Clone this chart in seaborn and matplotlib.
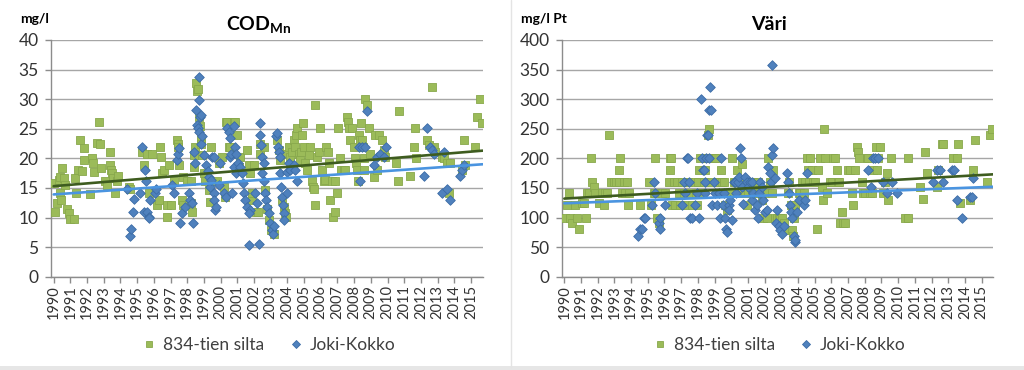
import numpy as np
import pandas as pd
import matplotlib
matplotlib.use("Agg")
import matplotlib.pyplot as plt
from matplotlib.lines import Line2D
from matplotlib.patches import Rectangle
import seaborn as sns

# ---------------- DATA ----------------
site_names = ["834-tien silta", "Joki-Kokko"]
year_ticks = list(range(1990, 2016))

# COD_Mn, 834-tien silta
cod_834_year = [1990.00, 1990.10, 1990.20, 1990.30, 1990.36, 1990.40, 1990.44, 1990.50, 1990.60, 1990.70,
                1990.80, 1990.90, 1991.00, 1991.20, 1991.30, 1991.36, 1991.44, 1991.60, 1991.70, 1991.80,
                1991.84, 1992.16, 1992.30, 1992.36, 1992.44, 1992.60, 1992.70, 1992.80, 1992.86, 1993.10,
                1993.20, 1993.35, 1993.40, 1993.43, 1993.50, 1993.55, 1993.70, 1993.80, 1993.83, 1994.50,
                1994.60, 1995.30, 1995.40, 1995.60, 1995.70, 1995.90, 1996.20, 1996.30, 1996.35, 1996.40,
                1996.50, 1996.60, 1996.80, 1996.78, 1997.00, 1996.90, 1997.20, 1997.40, 1997.42, 1997.44,
                1997.50, 1997.70, 1997.72, 1997.75, 1998.00, 1998.20, 1998.30, 1998.23, 1998.40, 1998.42,
                1998.44, 1998.55, 1998.60, 1998.65, 1998.68, 1998.74, 1998.82, 1998.80, 1998.88, 1998.98,
                1999.08, 1999.28, 1999.35, 1999.43, 1999.78, 1999.88, 2000.08, 2000.18, 2000.28, 2000.30,
                2000.38, 2000.48, 2000.58, 2000.78, 2000.88, 2000.98, 2001.08, 2001.18, 2001.58, 2001.68,
                2001.78, 2001.88, 2001.90, 2001.98, 2002.14, 2002.22, 2002.34, 2002.38, 2002.58, 2002.68,
                2002.78, 2002.88, 2003.02, 2003.18, 2003.38, 2003.48, 2003.58, 2003.68, 2003.78, 2003.88,
                2003.94, 2003.90, 2004.08, 2004.18, 2004.28, 2004.38, 2004.48, 2004.54, 2004.58, 2004.68,
                2004.74, 2004.82, 2004.88, 2004.94, 2004.98, 2005.08, 2005.18, 2005.28, 2005.38, 2005.48,
                2005.54, 2005.62, 2005.64, 2005.68, 2005.78, 2005.88, 2005.94, 2006.08, 2006.18, 2006.28,
                2006.34, 2006.41, 2006.47, 2006.57, 2006.67, 2006.73, 2006.83, 2006.87, 2006.97, 2007.01,
                2007.17, 2007.21, 2007.37, 2007.47, 2007.57, 2007.61, 2007.67, 2007.77, 2007.87, 2007.97,
                2008.07, 2008.13, 2008.17, 2008.21, 2008.27, 2008.33, 2008.41, 2008.47, 2008.53, 2008.57,
                2008.61, 2008.67, 2008.77, 2008.87, 2008.93, 2009.17, 2009.27, 2009.37, 2009.47, 2009.67,
                2009.77, 2009.87, 2010.53, 2010.61, 2010.67, 2011.37, 2011.57, 2011.67, 2011.73, 2012.36,
                2012.46, 2012.66, 2012.76, 2012.86, 2013.26, 2013.36, 2013.56, 2013.66, 2013.76, 2014.46,
                2014.56, 2014.66, 2015.26, 2015.36, 2015.56, 2015.66]
cod_834_value = [15.9, 11.0, 12.4, 16.3, 16.8, 14.1, 13.0, 18.3, 16.6, 15.5,
                 11.5, 10.7, 9.7, 9.7, 16.6, 14.2, 18.0, 23.1, 17.9, 19.8,
                 21.7, 13.9, 20.0, 19.2, 17.7, 22.6, 26.1, 22.4, 18.3, 16.1,
                 15.5, 21.0, 18.9, 18.1, 17.5, 16.6, 14.1, 16.1, 17.0, 15.2,
                 14.9, 21.1, 18.9, 20.8, 14.1, 20.8, 12.1, 13.0, 22.0, 20.3,
                 17.5, 18.0, 10.1, 12.1, 12.1, 18.9, 16.1, 23.1, 22.5, 22.0,
                 18.9, 13.0, 12.1, 16.9, 16.1, 12.4, 11.0, 16.1, 18.6, 20.6,
                 22.0, 32.7, 31.3, 31.8, 27.0, 25.4, 23.4, 22.5, 20.6, 17.5,
                 16.1, 14.6, 12.7, 22.0, 16.1, 19.2, 20.3, 15.2, 13.5, 26.2,
                 26.2, 22.0, 22.0, 26.2, 26.2, 23.9, 18.6, 20.3, 21.4, 18.9,
                 17.5, 13.0, 14.1, 18.9, 11.0, 11.0, 22.5, 20.8, 22.0, 14.6,
                 11.5, 9.6, 7.9, 7.3, 23.1, 21.4, 19.7, 13.0, 11.8, 10.7,
                 10.1, 20.8, 22.0, 20.3, 21.1, 23.1, 22.0, 23.9, 25.1, 20.8,
                 19.7, 21.1, 23.9, 25.9, 22.0, 19.2, 18.0, 20.6, 22.0, 16.1,
                 15.2, 14.9, 12.1, 29.0, 20.3, 21.1, 25.1, 18.0, 16.1, 16.3,
                 22.0, 21.1, 19.2, 13.0, 16.1, 10.1, 11.0, 16.1, 14.1, 25.1,
                 20.0, 18.0, 18.0, 18.0, 27.0, 26.2, 25.1, 23.1, 25.1, 22.0,
                 20.0, 19.2, 18.0, 16.1, 23.9, 23.1, 25.9, 23.1, 22.0, 20.0,
                 18.0, 30.0, 29.0, 25.1, 20.8, 16.9, 23.9, 18.0, 23.9, 23.1,
                 21.4, 20.3, 19.2, 16.1, 28.0, 17.0, 22.0, 25.1, 20.0, 23.1,
                 22.3, 32.0, 22.0, 21.1, 20.3, 20.0, 19.2, 14.1, 19.2, 18.0,
                 23.1, 18.9, 22.0, 27.0, 30.0, 25.9]

# COD_Mn, Joki-Kokko
cod_joki_year = [1994.39, 1994.55, 1994.65, 1994.75, 1994.79, 1995.49, 1995.29, 1995.39, 1995.59, 1995.69,
                 1995.73, 1995.55, 1995.79, 1995.19, 1996.09, 1996.15, 1997.09, 1997.19, 1997.39, 1997.43,
                 1997.49, 1997.59, 1997.69, 1997.89, 1998.09, 1998.19, 1998.29, 1998.35, 1998.49, 1998.43,
                 1998.55, 1998.59, 1998.63, 1998.69, 1998.71, 1998.73, 1998.75, 1998.83, 1998.85, 1998.89,
                 1998.99, 1999.15, 1999.23, 1999.29, 1999.39, 1999.45, 1999.49, 1999.59, 1999.61, 1999.63,
                 1999.69, 1999.71, 1999.89, 1999.99, 2000.18, 2000.32, 2000.38, 2000.48, 2000.54, 2000.58,
                 2000.62, 2000.68, 2000.78, 2000.80, 2000.88, 2000.90, 2000.94, 2001.02, 2001.18, 2001.28,
                 2001.34, 2001.38, 2001.48, 2001.58, 2001.68, 2001.78, 2001.70, 2002.08, 2002.18, 2002.28,
                 2002.34, 2002.38, 2002.42, 2002.48, 2002.50, 2002.58, 2002.62, 2002.68, 2002.74, 2002.78,
                 2002.88, 2002.98, 2003.08, 2003.14, 2003.22, 2003.34, 2003.38, 2003.42, 2003.48, 2003.54,
                 2003.58, 2003.62, 2003.68, 2003.74, 2003.78, 2003.82, 2003.98, 2004.00, 2004.08, 2004.18,
                 2004.38, 2004.48, 2004.58, 2008.27, 2008.37, 2008.47, 2008.67, 2008.77, 2009.17, 2009.37,
                 2009.57, 2009.77, 2009.93, 2012.16, 2012.36, 2012.56, 2012.66, 2012.76, 2013.26, 2013.36,
                 2013.56, 2013.76, 2014.36, 2014.46, 2014.56]
cod_joki_value = [14.8, 6.9, 8.0, 11.0, 13.1, 18.0, 22.0, 11.0, 11.0, 10.1,
                  9.9, 16.1, 13.0, 14.1, 14.1, 14.9, 15.5, 14.1, 19.7, 20.8,
                  21.7, 9.1, 10.7, 11.8, 14.1, 13.0, 12.4, 9.1, 19.2, 21.1,
                  28.2, 25.6, 25.1, 24.5, 33.8, 29.9, 27.0, 27.3, 22.5, 23.7,
                  20.6, 18.9, 17.9, 16.9, 15.2, 16.3, 20.3, 20.3, 14.1, 13.0,
                  11.3, 11.8, 15.5, 19.2, 14.1, 13.5, 25.1, 24.5, 23.4, 20.3,
                  20.8, 14.1, 25.4, 18.6, 22.0, 17.5, 20.8, 19.2, 18.6, 17.5,
                  15.9, 14.1, 13.0, 11.8, 5.4, 11.3, 10.7, 14.1, 12.4, 5.6,
                  25.9, 23.9, 22.3, 20.3, 17.5, 16.1, 19.2, 14.1, 13.0, 11.8,
                  10.7, 9.0, 7.9, 7.3, 8.5, 23.7, 24.2, 22.0, 21.1, 20.3,
                  17.5, 15.2, 13.5, 12.1, 10.7, 9.6, 14.1, 17.7, 19.2, 18.0,
                  18.9, 18.0, 16.1, 22.0, 16.1, 22.0, 22.0, 28.0, 18.9, 20.3,
                  20.8, 20.3, 22.0, 17.0, 25.1, 22.0, 21.4, 20.8, 14.1, 21.1,
                  14.9, 13.0, 17.0, 18.0, 18.9]

# Väri, 834-tien silta
vari_834_year = [1990.06, 1990.16, 1990.30, 1990.36, 1990.46, 1990.66, 1990.76, 1990.86, 1991.06, 1991.16,
                 1991.30, 1991.36, 1991.50, 1991.62, 1991.66, 1991.76, 1991.82, 1992.10, 1992.26, 1992.36,
                 1992.46, 1992.56, 1992.70, 1992.82, 1992.96, 1993.10, 1993.26, 1993.30, 1993.36, 1993.46,
                 1993.56, 1993.66, 1993.76, 1993.86, 1993.82, 1994.51, 1995.05, 1995.21, 1995.35, 1995.41,
                 1995.45, 1995.55, 1995.65, 1995.85, 1996.05, 1996.25, 1996.31, 1996.35, 1996.41, 1996.45,
                 1996.54, 1996.64, 1996.74, 1996.84, 1996.94, 1997.04, 1997.14, 1997.24, 1997.40, 1997.54,
                 1997.64, 1997.80, 1997.88, 1997.94, 1998.00, 1998.08, 1998.14, 1998.24, 1998.34, 1998.44,
                 1998.54, 1998.60, 1998.64, 1998.68, 1998.80, 1998.94, 1999.08, 1999.14, 1999.20, 1999.34,
                 1999.40, 1999.44, 1999.54, 1999.64, 1999.74, 1999.84, 2000.04, 2000.14, 2000.24, 2000.34,
                 2000.44, 2000.54, 2000.63, 2000.73, 2000.83, 2000.93, 2001.03, 2001.13, 2001.23, 2001.33,
                 2001.53, 2001.63, 2001.73, 2001.83, 2001.93, 2002.03, 2002.13, 2002.23, 2002.33, 2002.43,
                 2002.53, 2002.63, 2002.73, 2002.83, 2002.93, 2003.03, 2003.13, 2003.23, 2003.39, 2003.47,
                 2003.59, 2003.63, 2003.67, 2003.73, 2003.83, 2004.03, 2004.13, 2004.23, 2004.33, 2004.43,
                 2004.53, 2004.59, 2004.63, 2004.73, 2004.82, 2004.92, 2005.02, 2005.12, 2005.22, 2005.32,
                 2005.42, 2005.52, 2005.58, 2005.62, 2005.72, 2005.92, 2006.02, 2006.12, 2006.22, 2006.32,
                 2006.38, 2006.46, 2006.52, 2006.62, 2006.72, 2006.82, 2007.02, 2007.12, 2007.22, 2007.32,
                 2007.42, 2007.52, 2007.62, 2007.66, 2007.82, 2007.92, 2008.02, 2008.12, 2008.22, 2008.32,
                 2008.42, 2008.52, 2008.62, 2008.66, 2008.72, 2008.82, 2008.91, 2009.11, 2009.21, 2009.31,
                 2009.41, 2009.57, 2010.41, 2010.57, 2010.61, 2011.31, 2011.51, 2011.61, 2011.71, 2012.31,
                 2012.41, 2012.61, 2012.71, 2013.30, 2013.50, 2013.60, 2013.70, 2014.30, 2014.50, 2014.60,
                 2015.30, 2015.50, 2015.64]
vari_834_value = [100, 121, 141, 100, 90, 121, 100, 80, 124, 124,
                  100, 141, 141, 200, 160, 152, 141, 124, 141, 121,
                  141, 141, 239, 160, 160, 160, 180, 160, 200, 141,
                  160, 141, 160, 141, 121, 121, 160, 121, 141, 200,
                  141, 100, 90, 141, 141, 160, 200, 180, 200, 121,
                  160, 121, 160, 141, 121, 160, 141, 121, 160, 141,
                  121, 160, 141, 121, 160, 180, 200, 141, 160, 180,
                  200, 239, 250, 200, 160, 200, 200, 160, 141, 160,
                  180, 160, 160, 121, 113, 141, 200, 160, 160, 180,
                  160, 141, 191, 160, 141, 121, 141, 160, 141, 160,
                  141, 160, 141, 130, 100, 141, 100, 200, 160, 141,
                  180, 100, 100, 100, 100, 100, 90, 79, 141, 160,
                  121, 79, 68, 100, 121, 141, 141, 160, 141, 160,
                  200, 180, 160, 200, 180, 160, 160, 80, 180, 200,
                  152, 130, 250, 200, 141, 160, 160, 200, 200, 180,
                  160, 160, 90, 110, 90, 90, 180, 180, 141, 121,
                  180, 220, 211, 200, 160, 141, 141, 200, 200, 141,
                  141, 180, 200, 220, 180, 200, 220, 141, 160, 175,
                  130, 200, 100, 100, 200, 152, 132, 211, 175, 152,
                  180, 225, 225, 200, 200, 225, 124, 130, 180, 231,
                  160, 239, 250]

# Väri, Joki-Kokko
vari_joki_year = [1994.39, 1994.55, 1994.65, 1994.75, 1994.85, 1995.25, 1995.35, 1995.41, 1995.65, 1995.71,
                  1995.75, 1996.05, 1997.04, 1997.14, 1997.24, 1997.34, 1997.40, 1997.44, 1997.54, 1997.64,
                  1997.80, 1997.94, 1998.08, 1998.20, 1998.24, 1998.28, 1998.34, 1998.40, 1998.44, 1998.48,
                  1998.54, 1998.60, 1998.64, 1998.74, 1998.80, 1998.68, 1998.84, 1998.94, 1999.04, 1999.14,
                  1999.24, 1999.34, 1999.40, 1999.48, 1999.54, 1999.64, 1999.68, 1999.74, 1999.84, 1999.88,
                  1999.94, 2000.04, 2000.14, 2000.20, 2000.28, 2000.40, 2000.48, 2000.54, 2000.60, 2000.63,
                  2000.69, 2000.83, 2000.93, 2001.03, 2001.13, 2001.23, 2001.27, 2001.33, 2001.43, 2001.53,
                  2001.59, 2001.67, 2001.73, 2001.83, 2001.93, 2002.03, 2002.13, 2002.23, 2002.33, 2002.39,
                  2002.43, 2002.47, 2002.53, 2002.63, 2002.67, 2002.73, 2002.83, 2002.93, 2003.03, 2003.13,
                  2003.33, 2003.39, 2003.47, 2003.53, 2003.59, 2003.63, 2003.73, 2003.79, 2003.83, 2003.93,
                  2004.03, 2004.33, 2004.43, 2004.53, 2008.22, 2008.38, 2008.52, 2008.62, 2008.78, 2009.11,
                  2009.31, 2009.61, 2009.91, 2012.11, 2012.31, 2012.51, 2012.71, 2013.20, 2013.36, 2013.50,
                  2013.80, 2014.30, 2014.40, 2014.50]
vari_joki_value = [69, 80, 80, 100, 100, 121, 160, 141, 90, 80,
                   100, 121, 121, 160, 141, 200, 200, 160, 100, 100,
                   121, 141, 100, 300, 200, 180, 180, 160, 141, 200,
                   239, 239, 282, 320, 282, 200, 121, 160, 141, 121,
                   141, 100, 200, 121, 141, 100, 80, 75, 121, 113,
                   130, 95, 160, 160, 141, 160, 169, 217, 200, 152,
                   123, 169, 160, 152, 160, 160, 130, 141, 113, 121,
                   100, 141, 160, 152, 130, 110, 113, 186, 175, 160,
                   205, 357, 217, 166, 90, 113, 85, 79, 73, 85,
                   175, 160, 141, 121, 110, 100, 68, 59, 62, 110,
                   130, 121, 130, 175, 180, 152, 200, 200, 200, 160,
                   141, 160, 141, 160, 180, 180, 160, 180, 180, 130,
                   100, 135, 135, 166]

# Linear trend lines (end points)
trend_years = [1990.0, 2015.7]
cod_trend_834 = [15.3, 21.3]
cod_trend_joki = [13.9, 19.0]
vari_trend_834 = [132.0, 173.0]
vari_trend_joki = [124.0, 152.0]

# ---------------- STYLE ----------------
sns.set_theme(style="white")
plt.rcParams["font.family"] = ["Lato", "DejaVu Sans"]
plt.rcParams["mathtext.fontset"] = "custom"
plt.rcParams["mathtext.rm"] = "Lato"
plt.rcParams["mathtext.bf"] = "Lato:bold"

GREEN = "#9BBB59"
GREEN_EDGE = "#88A84C"
BLUE = "#4F81BD"
BLUE_EDGE = "#3C6CA6"
TREND_GREEN = "#3E5C1F"
TREND_BLUE = "#4A94E0"
GRID = "#A6A6A6"
TEXT = "#333333"

fig = plt.figure(figsize=(10.24, 3.70), dpi=100)
fig.patch.set_facecolor("white")

# panel decorations: separator and bottom band
fig.add_artist(Line2D([511 / 1024, 511 / 1024], [3 / 370, 1], transform=fig.transFigure,
                      color="#E4E4E4", lw=1))
fig.add_artist(Rectangle((0, 0), 1, 4 / 370, transform=fig.transFigure,
                         facecolor="#E6E6E6", edgecolor="none"))

panels = [
    dict(rect=[51 / 1024, 1 - 276.7 / 370, 432 / 1024, 236.7 / 370],
         d834=(cod_834_year, cod_834_value), djoki=(cod_joki_year, cod_joki_value),
         t834=cod_trend_834, tjoki=cod_trend_joki,
         ymax=40, ystep=5, title=r"COD$_{\mathbf{Mn}}$", unit="mg/l", unit_x=20 / 1024,
         xlim=(1989.84, 2015.72)),
    dict(rect=[562 / 1024, 1 - 276.7 / 370, 431 / 1024, 236.7 / 370],
         d834=(vari_834_year, vari_834_value), djoki=(vari_joki_year, vari_joki_value),
         t834=vari_trend_834, tjoki=vari_trend_joki,
         ymax=400, ystep=50, title="Väri", unit="mg/l Pt", unit_x=521 / 1024,
         xlim=(1989.86, 2015.68)),
]

for p in panels:
    ax = fig.add_axes(p["rect"])
    df = pd.concat([
        pd.DataFrame({"vuosi": p["d834"][0], "arvo": p["d834"][1], "paikka": site_names[0]}),
        pd.DataFrame({"vuosi": p["djoki"][0], "arvo": p["djoki"][1], "paikka": site_names[1]}),
    ], ignore_index=True)

    sns.scatterplot(data=df[df["paikka"] == site_names[0]], x="vuosi", y="arvo", ax=ax,
                    color=GREEN, marker="s", s=28, edgecolor=GREEN_EDGE, linewidth=0.6,
                    legend=False, zorder=3)
    sns.scatterplot(data=df[df["paikka"] == site_names[1]], x="vuosi", y="arvo", ax=ax,
                    color=BLUE, marker="D", s=24, edgecolor=BLUE_EDGE, linewidth=0.6,
                    legend=False, zorder=4)

    tr = pd.DataFrame({"vuosi": trend_years * 2,
                       "arvo": p["t834"] + p["tjoki"],
                       "sarja": ["a", "a", "b", "b"]})
    sns.lineplot(data=tr, x="vuosi", y="arvo", hue="sarja",
                 palette={"a": TREND_GREEN, "b": TREND_BLUE}, lw=1.9, ax=ax,
                 legend=False, zorder=5)

    ax.set_xlim(*p["xlim"])
    ax.set_ylim(0, p["ymax"])
    ax.set_yticks(np.arange(0, p["ymax"] + 1, p["ystep"]))
    ax.set_xticks(year_ticks)
    ax.set_xticklabels([str(y) for y in year_ticks], rotation=90)
    ax.set_xlabel("")
    ax.set_ylabel("")
    ax.yaxis.grid(True, color=GRID, lw=1)
    ax.xaxis.grid(False)
    ax.set_axisbelow(True)
    for s in ["top", "right"]:
        ax.spines[s].set_visible(False)
    for s in ["left", "bottom"]:
        ax.spines[s].set_color("#8C8C8C")
        ax.spines[s].set_linewidth(1)
    ax.tick_params(axis="y", which="major", length=4, width=1, color="#8C8C8C",
                   labelsize=12.5, labelcolor=TEXT, pad=5, left=True)
    ax.tick_params(axis="x", which="major", length=4, width=1, color="#8C8C8C",
                   labelsize=10.5, labelcolor=TEXT, pad=2, bottom=True)

    cx = p["rect"][0] + p["rect"][2] * 0.48
    fig.text(cx, 1 - 25 / 370, p["title"], ha="center", va="center",
             fontsize=14, fontweight="bold", color="black")
    fig.text(p["unit_x"], 1 - 19 / 370, p["unit"], ha="left", va="center",
             fontsize=10, fontweight="bold", color="black")

    handles = [
        Line2D([], [], ls="none", marker="s", markersize=4.2, markerfacecolor=GREEN,
               markeredgecolor=GREEN_EDGE, markeredgewidth=0.6, label=site_names[0]),
        Line2D([], [], ls="none", marker="D", markersize=3.8, markerfacecolor=BLUE,
               markeredgecolor=BLUE_EDGE, markeredgewidth=0.6, label=site_names[1]),
    ]
    ax.legend(handles=handles, loc="center", bbox_to_anchor=(0.50, -0.29), ncol=2,
              frameon=False, fontsize=12.5, handletextpad=0.2, columnspacing=1.2,
              handlelength=1.2, labelcolor="#404040")

fig.savefig("out.png", dpi=100)
